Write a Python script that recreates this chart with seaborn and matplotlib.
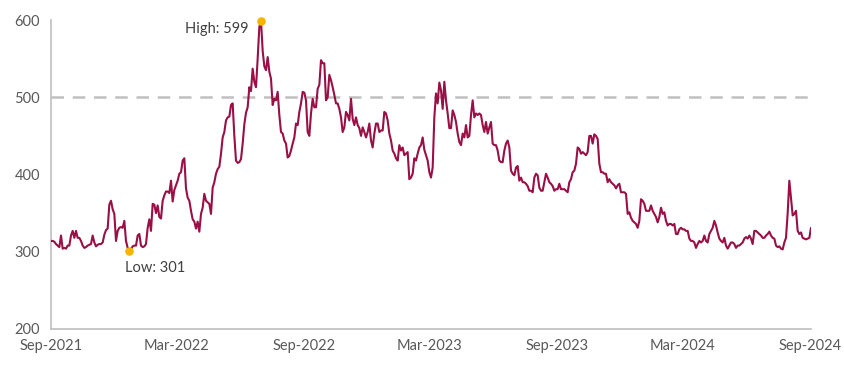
import numpy as np
import pandas as pd
import matplotlib
matplotlib.use("Agg")
import matplotlib.pyplot as plt
import matplotlib.dates as mdates
import seaborn as sns

# ---- data ----
start_date = "2021-09-01"
end_date = "2024-09-02"

values_part1 = [314, 314, 313, 310, 308, 306, 321, 304, 305, 304, 308, 308, 321, 327, 318, 327, 318, 318, 314, 308,
                305, 306, 308, 309, 310, 321, 312, 307, 309, 310, 310, 312, 322, 328, 330, 361, 366, 355, 349, 314,
                327, 331, 332, 331, 340, 314, 305, 301, 303, 307, 308, 308, 321, 323, 308, 306, 307, 310, 331, 342,
                327, 362, 361, 350, 360, 345, 343, 366, 373, 378, 378, 376, 392, 365, 380, 386, 392, 401, 403, 418,
                421, 382, 370, 366, 353, 342, 339, 330, 339, 326, 349, 357, 375, 366, 364, 362, 349, 383, 390, 401,
                407, 410]
values_part2 = [427, 448, 455, 470, 474, 475, 490, 492, 450, 418, 415, 416, 420, 440, 465, 480, 487, 513, 508, 537,
                520, 513, 550, 591, 599, 560, 540, 535, 552, 533, 524, 490, 498, 496, 507, 477, 455, 453, 444, 440,
                422, 424, 431, 440, 448, 466, 464, 481, 492, 507, 506, 496, 455, 450, 479, 498, 487, 487, 511, 516,
                548, 544, 544, 496, 500, 529, 522, 513, 503, 492, 492, 485, 474, 455, 461, 481, 477, 470, 498, 472,
                464, 474, 464, 460, 450, 461, 455, 448, 455, 466, 444, 435, 453, 466, 466, 455, 457, 457, 481, 479,
                470, 453, 444, 431, 427, 421, 418, 438, 431, 435, 425, 427, 429, 394, 396, 401, 421, 418, 427, 435]
values_part3 = [438, 448, 432, 425, 418, 403, 396, 409, 474, 505, 492, 519, 509, 485, 520, 496, 479, 460, 460, 483,
                477, 468, 453, 442, 438, 453, 448, 464, 448, 450, 477, 496, 474, 479, 477, 479, 477, 464, 455, 468,
                453, 461, 468, 440, 438, 438, 431, 418, 416, 416, 431, 440, 444, 435, 405, 401, 399, 409, 411, 392,
                396, 390, 390, 388, 385, 379, 379, 377, 396, 401, 399, 383, 379, 379, 390, 401, 396, 390, 388, 385,
                379, 381, 381, 388, 381, 381, 381, 379, 377, 390, 394, 403, 405, 414, 435, 433, 427, 429, 427, 425,
                429, 450, 450, 440, 452, 450, 446, 414, 403, 403, 401, 401, 390, 394, 390, 388, 386, 382, 386, 388]
values_part4 = [377, 377, 377, 375, 349, 351, 344, 340, 338, 336, 331, 340, 368, 366, 362, 353, 353, 353, 360, 353,
                349, 345, 338, 345, 357, 349, 351, 340, 334, 336, 336, 334, 336, 323, 323, 329, 331, 329, 329, 327,
                327, 317, 314, 314, 312, 305, 310, 314, 312, 314, 321, 314, 312, 323, 327, 331, 340, 334, 325, 317,
                314, 312, 318, 308, 304, 308, 312, 312, 310, 305, 308, 308, 310, 312, 317, 319, 317, 321, 317, 310,
                327, 327, 325, 323, 321, 318, 318, 321, 323, 326, 321, 318, 317, 308, 306, 307, 304, 303, 312, 318,
                350, 392, 370, 347, 349, 353, 327, 323, 325, 318, 317, 316, 317, 318, 331]

values = values_part1 + values_part2 + values_part3 + values_part4
dates = pd.date_range(start_date, end_date, periods=len(values))
df = pd.DataFrame({"date": dates, "value": values})

reference_level = 500
tick_dates = ["2021-09-01", "2022-03-01", "2022-09-01", "2023-03-01", "2023-09-01", "2024-03-01", "2024-09-01"]
tick_labels = ["Sep-2021", "Mar-2022", "Sep-2022", "Mar-2023", "Sep-2023", "Mar-2024", "Sep-2024"]
y_ticks = [200, 300, 400, 500, 600]

# ---- styling ----
sns.set_theme(style="white")
plt.rcParams["font.family"] = ["Lato", "DejaVu Sans"]

line_color = "#9a0f45"
marker_color = "#f7b500"
axis_color = "#bfbfbf"
text_color = "#595959"

fig = plt.figure(figsize=(8.45, 3.69), dpi=100)
ax = fig.add_axes([51 / 845, 1 - 329 / 369, (811 - 51) / 845, (329 - 20) / 369])

ax.axhline(reference_level, color="#c0c0c0", lw=1.8, dashes=(5, 3.5), zorder=1)
sns.lineplot(data=df, x="date", y="value", ax=ax, color=line_color, lw=1.5, zorder=3)

# high / low markers
i_max = int(np.argmax(values))
i_min = int(np.argmin(values))
for idx in (i_max, i_min):
    ax.scatter([dates[idx]], [values[idx]], s=38, color=marker_color, zorder=5, linewidths=0, clip_on=False)

ax.annotate(f"High: {values[i_max]}", xy=(dates[i_max], values[i_max]), xytext=(-12, -8),
            textcoords="offset pixels", ha="right", va="center", fontsize=10.5, color="#404040")
ax.annotate(f"Low: {values[i_min]}", xy=(dates[i_min], values[i_min]), xytext=(-4, -17),
            textcoords="offset pixels", ha="left", va="center", fontsize=10.5, color="#404040")

ax.set_xlim(dates[0], dates[-1])
ax.set_ylim(200, 600)
ax.set_yticks(y_ticks)
ax.set_xticks(pd.to_datetime(tick_dates))
ax.set_xticklabels(tick_labels)
ax.set_xlabel("")
ax.set_ylabel("")

for s in ["top", "right"]:
    ax.spines[s].set_visible(False)
for s in ["left", "bottom"]:
    ax.spines[s].set_color(axis_color)
    ax.spines[s].set_linewidth(1.2)

ax.tick_params(axis="both", colors=axis_color, length=4, width=1.0, labelsize=10.5,
               labelcolor=text_color, direction="out")
ax.tick_params(axis="x", pad=3)
ax.tick_params(axis="y", pad=4)
ax.grid(False)

fig.savefig("out.png", dpi=100)
